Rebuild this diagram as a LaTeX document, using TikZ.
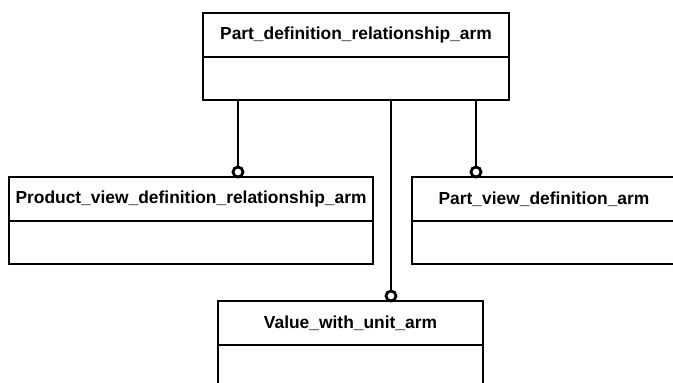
\documentclass[tikz,border=0pt]{standalone}
\usepackage{fontspec}
\setmainfont{Liberation Sans}
\usetikzlibrary{positioning}
\colorlet{umlline}{black}
\tikzset{
    classtitle/.style={draw=umlline, line width=2.8pt, minimum height=44pt, inner sep=0pt, outer sep=0pt,
        font=\bfseries\fontsize{17.4}{20}\selectfont},
    classbody/.style={draw=umlline, line width=2.8pt, minimum height=43pt, inner sep=0pt, outer sep=0pt},
    hookcircle/.style={circle, draw=umlline, fill=white, line width=2.8pt, minimum size=10pt, inner sep=0pt, outer sep=0pt},
    assoc/.style={draw=umlline, line width=2.8pt}
}

\begin{document}
\begin{tikzpicture}[x=1pt, y=-1pt]
        \useasboundingbox (0,0) rectangle (673,383);
        \foreach \nm/\x/\y/\w/\txt in {pdr/356/35/306/Part\_definition\_relationship\_arm,
            pvdr/191/199/364/Product\_view\_definition\_relationship\_arm,
            pvd/544/199/264/Part\_view\_definition\_arm,
            vwu/350.5/323/265/Value\_with\_unit\_arm}{
            \node[classtitle, minimum width=\w pt] (\nm title) at (\x,\y) {\txt};
            \node[classbody, minimum width=\w pt, below=0pt of \nm title] (\nm body) {};
        }
        \foreach \off/\target in {-118/pvdr, 35/vwu, 120/pvd}{
            \coordinate (leg\target) at ([xshift=\off pt]pdrbody.south);
            \node[hookcircle, anchor=south] (hook\target) at (leg\target |- \target title.north) {};
            \draw[assoc] (leg\target) -- (hook\target);
        }
    \end{tikzpicture}
\end{document}
